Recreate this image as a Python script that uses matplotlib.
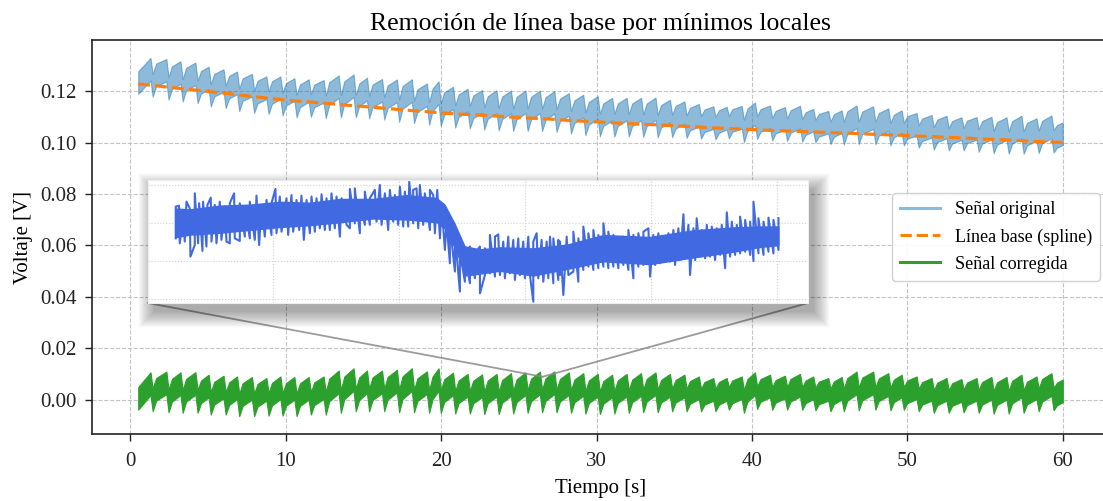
import numpy as np
import matplotlib
matplotlib.use("Agg")
import matplotlib.pyplot as plt
from matplotlib.patches import FancyBboxPatch, ConnectionPatch
from matplotlib.lines import Line2D

# ---------------- data ----------------
t_start, t_end = 0.5, 60.0

peak_times = [1.29, 2.31, 3.22, 4.18, 5.03, 5.99, 6.86, 7.82, 8.75, 9.65,
              10.55, 11.47, 12.43, 13.40, 14.36, 15.22, 16.19, 17.15, 18.11, 19.08,
              19.83, 20.76, 21.70, 22.63, 23.56, 24.49, 25.42, 26.35, 27.28, 28.21,
              29.14, 30.07, 31.00, 31.93, 32.86, 33.79, 34.72, 35.65, 36.58, 37.51,
              38.37, 39.34, 40.19, 41.16, 42.12, 43.09, 43.94, 44.91, 45.77, 46.73,
              47.80, 48.77, 49.63, 50.59, 51.56, 52.52, 53.48, 54.45, 55.41, 56.38,
              57.34, 58.31, 59.27]

corr_peaks = [0.0106, 0.0109, 0.0106, 0.0107, 0.0097, 0.0093, 0.0090, 0.0088, 0.0084, 0.0090,
              0.0088, 0.0088, 0.0090, 0.0113, 0.0122, 0.0113, 0.0113, 0.0116, 0.0122, 0.0110,
              0.0122, 0.0105, 0.0100, 0.0098, 0.0100, 0.0103, 0.0106, 0.0109, 0.0110, 0.0106,
              0.0103, 0.0100, 0.0097, 0.0100, 0.0103, 0.0106, 0.0100, 0.0097, 0.0090, 0.0084,
              0.0084, 0.0090, 0.0106, 0.0097, 0.0093, 0.0100, 0.0090, 0.0084, 0.0088, 0.0109,
              0.0109, 0.0103, 0.0097, 0.0090, 0.0084, 0.0084, 0.0080, 0.0084, 0.0088, 0.0088,
              0.0097, 0.0090, 0.0103]

corr_troughs = [-0.0045, -0.0049, -0.0051, -0.0051, -0.0058, -0.0058, -0.0064, -0.0064, -0.0062, -0.0062,
                -0.0064, -0.0058, -0.0058, -0.0051, -0.0045, -0.0045, -0.0045, -0.0049, -0.0049, -0.0051,
                -0.0051, -0.0054, -0.0054, -0.0056, -0.0056, -0.0054, -0.0051, -0.0049, -0.0049, -0.0051,
                -0.0054, -0.0056, -0.0054, -0.0051, -0.0049, -0.0049, -0.0045, -0.0045, -0.0045, -0.0045,
                -0.0039, -0.0051, -0.0036, -0.0039, -0.0039, -0.0039, -0.0041, -0.0045, -0.0045, -0.0041,
                -0.0039, -0.0041, -0.0039, -0.0045, -0.0051, -0.0051, -0.0049, -0.0051, -0.0054, -0.0054,
                -0.0051, -0.0045, -0.0041]

baseline_vals = [0.1223, 0.1216, 0.1210, 0.1204, 0.1198, 0.1192, 0.1186, 0.1179, 0.1173, 0.1167,
                 0.1162, 0.1158, 0.1153, 0.1148, 0.1143, 0.1139, 0.1134, 0.1129, 0.1124, 0.1120,
                 0.1116, 0.1112, 0.1109, 0.1106, 0.1103, 0.1099, 0.1096, 0.1093, 0.1090, 0.1086,
                 0.1083, 0.1080, 0.1077, 0.1074, 0.1071, 0.1069, 0.1066, 0.1063, 0.1060, 0.1057,
                 0.1055, 0.1052, 0.1050, 0.1047, 0.1045, 0.1043, 0.1041, 0.1039, 0.1037, 0.1035,
                 0.1032, 0.1030, 0.1028, 0.1025, 0.1023, 0.1020, 0.1018, 0.1015, 0.1012, 0.1010,
                 0.1007, 0.1004, 0.1002]

corr_start, corr_end = 0.0005, 0.0034     # band centre at first / last sample
base_start, base_end = 0.1228, 0.1000

# ---- inset (detail window starting at 26.0 s; time in ms, amplitude in mV) ----
inset_t0 = 26.0
core_ms = [44, 68, 116, 163, 211, 259, 306, 359, 413, 460,
           473, 489, 505, 529, 560, 613, 667, 724, 798, 867,
           930, 973, 1003]
core_hi = [4.80, 4.75, 4.95, 5.00, 5.15, 5.10, 5.30, 5.30, 5.50, 5.35,
           5.00, 4.00, 2.80, 2.65, 2.75, 2.70, 2.90, 3.40, 3.30, 3.65,
           3.80, 3.85, 3.85]
core_lo = [3.20, 3.35, 3.45, 3.60, 3.75, 3.85, 4.00, 4.20, 4.15, 4.00,
           3.65, 2.60, 1.20, 1.30, 1.45, 1.20, 1.55, 1.95, 1.80, 2.15,
           2.45, 2.70, 2.80]
# upper excursions of the noise
hi_ms = [46.0, 51.3, 57.7, 63.0, 68.3, 76.2, 83.1, 89.4, 96.3, 101.6,
         107.9, 115.9, 123.8, 131.8, 138.6, 147.6, 155.6, 163.5, 174.1, 182.0,
         190.0, 197.9, 204.2, 211.1, 221.7, 229.6, 237.6, 245.5, 253.5, 261.4,
         269.3, 277.3, 285.2, 293.1, 301.1, 309.0, 322.2, 330.1, 338.1, 346.0,
         353.9, 361.9, 369.8, 377.8, 385.7, 393.6, 401.6, 409.5, 416.4, 422.7,
         428.0, 433.3, 441.2, 449.2, 454.5, 460.8, 467.7, 475.6, 480.9, 488.9,
         496.8, 504.7, 512.7, 520.6, 528.5, 536.5, 544.4, 552.4, 557.6, 565.6,
         573.5, 581.5, 589.4, 597.3, 605.3, 613.2, 618.5, 626.4, 634.4, 639.7,
         645.0, 652.9, 655.6, 666.2, 676.8, 684.7, 692.6, 700.6, 708.5, 716.4,
         724.4, 732.3, 740.3, 748.2, 756.1, 764.1, 772.0, 779.9, 787.9, 795.8,
         803.7, 811.7, 819.6, 827.6, 835.5, 843.4, 851.4, 859.3, 867.2, 872.5,
         880.5, 888.4, 896.3, 904.3, 912.2, 920.2, 928.1, 936.0, 941.3, 949.3,
         957.2, 962.5, 970.4, 978.4, 986.3, 994.2, 1002.2]
hi_mv = [4.86, 4.91, 4.60, 5.12, 4.77, 5.56, 5.04, 5.12, 4.95, 5.33,
         4.95, 5.12, 4.86, 5.04, 5.56, 5.04, 4.86, 5.12, 5.44, 4.95,
         5.21, 5.04, 5.79, 5.39, 5.30, 5.47, 5.21, 5.44, 5.21, 5.39,
         5.30, 5.51, 5.30, 5.56, 5.39, 5.30, 5.79, 5.82, 5.21, 5.65,
         5.30, 5.74, 6.00, 5.56, 5.74, 5.47, 5.91, 5.65, 6.18, 5.74,
         5.82, 6.00, 5.56, 5.74, 5.47, 5.74, 4.95, 4.07, 3.90, 3.37,
         2.49, 2.32, 2.76, 2.40, 2.76, 2.67, 3.37, 3.28, 3.40, 3.02,
         3.28, 3.11, 3.19, 3.02, 3.28, 3.02, 3.46, 3.11, 3.02, 3.28,
         3.19, 3.11, 3.02, 3.28, 3.54, 3.19, 3.81, 3.46, 3.63, 3.37,
         3.98, 3.54, 3.37, 3.11, 3.28, 3.63, 3.37, 3.46, 3.54, 3.72,
         3.37, 3.46, 3.28, 3.46, 3.63, 3.72, 4.46, 3.90, 3.72, 4.25,
         3.63, 3.90, 3.81, 3.72, 3.90, 4.56, 4.07, 3.90, 4.33, 4.16,
         4.07, 5.12, 4.25, 4.07, 4.28, 4.16, 4.25]
# lower excursions of the noise
lo_ms = [46.0, 52.4, 60.3, 69.3, 76.2, 81.5, 88.4, 94.7, 102.7, 110.6,
         118.5, 126.5, 131.8, 139.7, 147.6, 155.6, 163.5, 171.4, 178.3, 187.3,
         197.9, 205.8, 213.8, 224.3, 232.3, 241.8, 249.2, 258.7, 266.7, 274.6,
         282.5, 290.5, 298.4, 306.4, 317.0, 322.2, 330.1, 338.1, 346.0, 353.9,
         364.5, 372.5, 383.0, 391.0, 398.9, 406.9, 414.8, 422.7, 430.7, 438.6,
         449.2, 457.1, 465.1, 473.0, 480.9, 488.9, 496.8, 504.7, 512.7, 520.6,
         528.6, 536.5, 544.4, 552.4, 560.3, 568.2, 576.2, 584.1, 592.0, 600.0,
         607.9, 613.2, 621.1, 629.1, 637.0, 645.0, 652.9, 655.6, 660.9, 668.8,
         676.8, 684.7, 692.6, 700.6, 708.5, 716.4, 724.4, 732.3, 740.3, 748.2,
         756.1, 764.1, 772.0, 779.9, 787.9, 798.5, 806.4, 814.3, 822.3, 830.2,
         838.1, 846.1, 854.0, 861.9, 869.9, 877.8, 885.8, 893.7, 901.6, 909.6,
         917.5, 925.4, 933.4, 941.3, 949.3, 957.2, 962.5, 970.4, 978.4, 986.3,
         994.2, 1002.2]
lo_mv = [3.19, 2.93, 3.02, 2.23, 2.84, 2.93, 2.53, 2.76, 3.02, 2.93,
         3.11, 3.02, 2.93, 3.19, 3.05, 3.28, 3.19, 3.11, 2.84, 3.28,
         3.37, 3.46, 3.54, 3.37, 3.54, 3.63, 3.11, 3.46, 3.54, 3.72,
         3.63, 3.63, 3.72, 3.28, 3.90, 3.72, 3.98, 3.46, 3.90, 3.90,
         4.07, 3.90, 3.63, 4.07, 3.90, 3.81, 3.81, 3.98, 3.72, 3.90,
         3.63, 3.46, 3.19, 2.58, 1.88, 1.44, 0.39, 0.91, 0.83, 1.09,
         0.30, 1.26, 1.35, 1.18, 1.26, 1.09, 1.35, 1.00, 1.26, 1.09,
         1.26, -0.14, 1.09, 0.91, 1.09, 0.83, 1.00, 1.26, 0.21, 1.26,
         1.44, 0.91, 1.53, 1.70, 1.53, 1.62, 1.70, 1.62, 1.70, 1.62,
         1.79, 1.53, 1.09, 1.70, 1.79, 1.18, 1.79, 1.88, 2.05, 1.97,
         1.79, 2.05, 2.14, 1.26, 2.05, 2.23, 2.14, 2.23, 2.05, 2.32,
         1.62, 2.23, 2.32, 2.40, 2.49, 2.32, 2.00, 2.40, 2.32, 2.49,
         2.40, 2.58]
focus_value = 0.0089

# ---------------- build the traces (band centre of the noisy signal) ----------------
DROP = 0.14        # drawing shape: time from a beat's peak to its sharp fall
SHOULDER_DT = 0.22 # drawing shape: fast rise after the fall ...
SHOULDER_F = 0.62  # ... reaching this fraction of the next rise
BAND = 0.0088      # drawn vertical thickness of the noisy trace

c_pk = np.array(corr_peaks) - BAND / 2
c_tr = np.array(corr_troughs) + BAND / 2
t_sig, centre, base = [t_start], [corr_start], [base_start]
n = len(peak_times)
for i in range(n):
    p = peak_times[i]
    t_sig += [p, p + DROP]
    centre += [c_pk[i], c_tr[i]]
    base += [baseline_vals[i], baseline_vals[i]]
    nxt = c_pk[i + 1] if i + 1 < n else corr_end
    t_sh = p + DROP + SHOULDER_DT
    if t_sh < t_end:
        t_sig.append(t_sh)
        centre.append(c_tr[i] + SHOULDER_F * (nxt - c_tr[i]))
        base.append(baseline_vals[i])
t_sig.append(t_end); centre.append(corr_end); base.append(base_end)
t_sig = np.array(t_sig); centre = np.array(centre); base = np.array(base)
up, lo = centre + BAND / 2, centre - BAND / 2

t_base = [t_start] + peak_times + [t_end]
v_base = [base_start] + baseline_vals + [base_end]

# ---------------- figure ----------------
plt.rcParams['font.family'] = ['Liberation Serif', 'DejaVu Serif']
W, H = 1103, 501
fig = plt.figure(figsize=(W / 100, H / 100), dpi=100)
ax = fig.add_axes([92 / W, 1 - 434 / H, 1017 / W, 394 / H])

ax.fill_between(t_sig, lo + base, up + base, color='tab:blue', alpha=0.5, lw=0.8,
                edgecolor='tab:blue')
ax.plot(t_base, v_base, color='tab:orange', lw=2.3, ls='--')
ax.fill_between(t_sig, lo, up, color='tab:green', lw=0.8, edgecolor='tab:green')

ax.grid(True, ls='--', color='#c4c4c4', lw=0.8)
ax.set_axisbelow(True)
for s in ['left', 'bottom', 'top']:
    ax.spines[s].set_linewidth(1.2)
    ax.spines[s].set_color('#222222')
ax.spines['right'].set_visible(False)
ax.tick_params(direction='out', length=5, width=1, labelsize=15, colors='#222222', pad=6)
ax.tick_params(axis='x', pad=8)
ax.set_xticks([0, 10, 20, 30, 40, 50, 60])
ax.set_yticks([0.00, 0.02, 0.04, 0.06, 0.08, 0.10, 0.12])
ax.set_title('Remoción de línea base por mínimos locales', fontsize=18.5, pad=7)
ax.set_xlabel('Tiempo [s]', fontsize=15, labelpad=6)
ax.set_ylabel('Voltaje [V]', fontsize=15, labelpad=5)

handles = [Line2D([], [], color='tab:blue', alpha=0.5, lw=2.2),
           Line2D([], [], color='tab:orange', lw=2.2, ls='--'),
           Line2D([], [], color='tab:green', lw=2.2)]
labels = ['Señal original', 'Línea base (spline)', 'Señal corregida']
leg = ax.legend(handles, labels, loc='center right', fontsize=13, frameon=True, fancybox=True,
                edgecolor='#cccccc', framealpha=0.9, borderpad=0.45, handlelength=2.2,
                labelspacing=0.55)

# ---------------- inset ----------------
ix0, iy0, iw, ih = 148, 303, 660, 123  # pixel box (left, bottom-from-top, width, height)
inset_rect = [ix0 / W, 1 - iy0 / H, iw / W, ih / H]

# soft drop shadow (mostly down-right)
for i in range(15):
    pad = i * 1.1
    sh = FancyBboxPatch(((ix0 + 6 - pad) / W, (1 - (iy0 + 9 + pad) / H)),
                        (iw + 2 * pad) / W, (ih + 2 * pad) / H,
                        boxstyle='round,pad=0', transform=fig.transFigure,
                        facecolor='black', edgecolor='none', alpha=0.024, zorder=3)
    fig.add_artist(sh)

axin = fig.add_axes(inset_rect, zorder=5)
axin.fill_between(core_ms, core_lo, core_hi, color='royalblue', lw=0)
pts = sorted(list(zip(hi_ms, hi_mv)) + list(zip(lo_ms, lo_mv)))
axin.plot([p[0] for p in pts], [p[1] for p in pts], color='royalblue', lw=1.5)
axin.set_xlim(2, 1049)
axin.set_ylim(-0.21, 6.26)
axin.set_xticks([200, 400, 600, 800, 1000])
axin.set_yticks([0, 2, 4, 6])
axin.tick_params(length=0, labelbottom=False, labelleft=False)
axin.grid(True, ls=':', color='#d0d0d0', lw=0.8)
axin.set_axisbelow(True)
for s in axin.spines.values():
    s.set_color('#eeeeee'); s.set_linewidth(0.8)

focus_t = inset_t0 + (min(hi_ms + lo_ms) + max(hi_ms + lo_ms)) / 2000.0
for corner in [(0.0, 0.0), (1.0, 0.0)]:
    cp = ConnectionPatch(xyA=corner, coordsA=axin.transAxes,
                         xyB=(focus_t, focus_value), coordsB=ax.transData,
                         color='#8a8a8a', lw=1.3, alpha=0.85, zorder=2)
    fig.add_artist(cp)

fig.savefig('out.png', dpi=100)
